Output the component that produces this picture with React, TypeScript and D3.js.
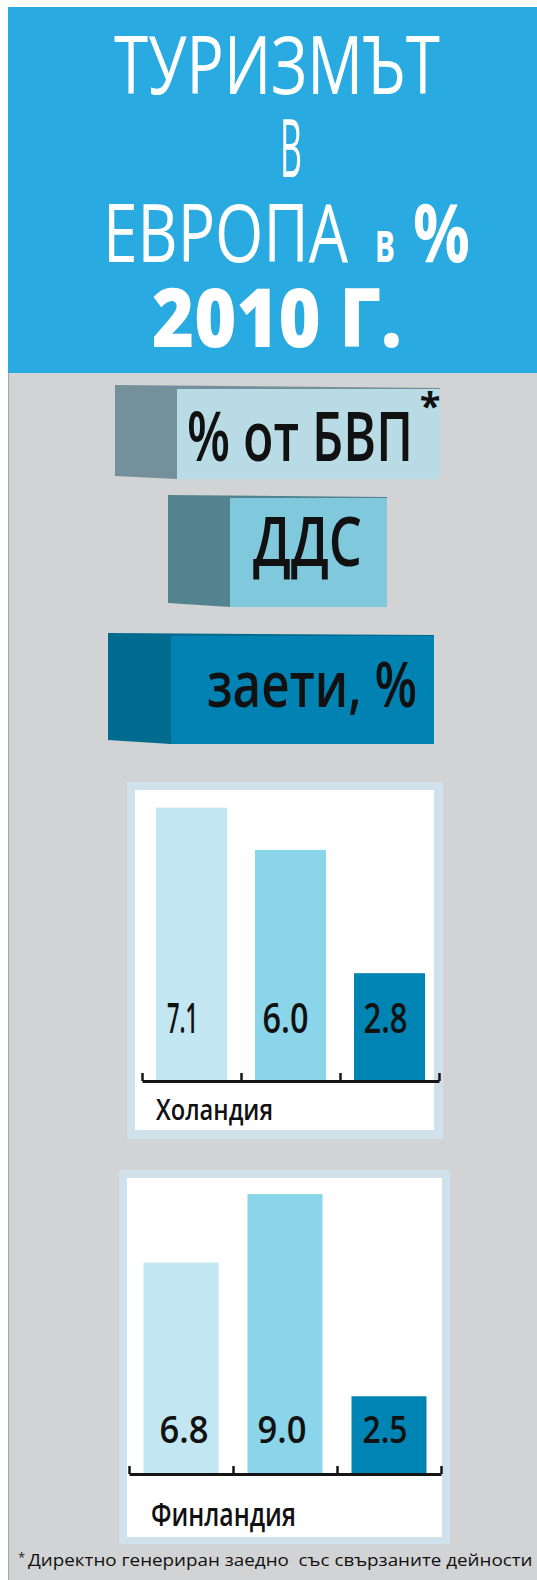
import { useEffect, useLayoutEffect, useRef, useState } from 'react'
import * as d3 from 'd3'

// series: metric per bar, one small array per country
const metrics = ['% от БВП', 'ДДС', 'заети, %']
const metricColors = ['#c2e7f2', '#8ad5ea', '#0084b4']
const countries = ['Холандия', 'Финландия']
const netherlandsValues = [7.1, 6.0, 2.8]
const finlandValues = [6.8, 9.0, 2.5]
const footnoteText = 'Директно генериран заедно  със свързаните дейности'

const W = 537
const H = 1580
const FONT = "'Open Sans', 'Noto Sans', sans-serif"

const fmt = d3.format('.1f')

// layout of the two bar panels (pixels)
const panels = [
  {
    country: countries[0], values: netherlandsValues,
    outer: [127, 782, 443, 1139], inner: [135, 790, 434, 1130],
    x0: 142, x1: 439, base: 1081, pxUnit: 38.5, pad: 0.283,
    labelY: 1033, labelSize: 42, labelW: [31, 46, 44], labelDx: [-9, -5, -4],
    nameX: 156, nameY: 1120, nameSize: 28, nameW: 117,
  },
  {
    country: countries[1], values: finlandValues,
    outer: [119, 1170, 450, 1544], inner: [127, 1178, 442, 1537],
    x0: 129, x1: 441, base: 1474, pxUnit: 31.1, pad: 0.279,
    labelY: 1443, labelSize: 38, labelW: [49, 49, 45], labelDx: [3, -3, -4],
    nameX: 151, nameY: 1526, nameSize: 33, nameW: 145,
  },
]

// legend "blocks"
const legendBoxes = [
  { l: 115, s: 177, r: 440, top: 385, ftop: 389, bot: 479, lbot: 476, side: '#74909a', front: '#b8dbe5',
    tx: 187, ty: 461, tw: 226, ts: 68 },
  { l: 168, s: 230, r: 387, top: 495, ftop: 498, bot: 607, lbot: 603, side: '#52838f', front: '#80c9dd',
    tx: 253, ty: 566, tw: 109, ts: 68 },
  { l: 108, s: 171, r: 434, top: 633, ftop: 636, bot: 744, lbot: 740, side: '#006a8f', front: '#0083b3',
    tx: 207, ty: 707, tw: 210, ts: 63 },
]

// text squeezed horizontally to a given width (condensed look)
function FitText({ x, y, w, anchor = 'start', children, ...rest }: any) {
  const ref = useRef<SVGTextElement>(null)
  const [sx, setSx] = useState(1)
  useLayoutEffect(() => {
    const n = ref.current ? ref.current.getComputedTextLength() : 0
    if (n > 0) setSx(w / n)
  }, [w, children])
  return (
    <text ref={ref} transform={`translate(${x},${y}) scale(${sx},1)`} textAnchor={anchor} {...rest}>
      {children}
    </text>
  )
}

function Axis({ x0, x1, y, n }: { x0: number; x1: number; y: number; n: number }) {
  const ref = useRef<SVGGElement>(null)
  useEffect(() => {
    const s = d3.scaleLinear().domain([0, n]).range([x0, x1])
    const g = d3.select(ref.current)
    g.selectAll('*').remove()
    g.attr('transform', `translate(0,${y})`)
      .call(d3.axisBottom(s).tickValues(d3.range(n + 1)).tickSize(-8).tickSizeOuter(0).tickFormat(() => '') as any)
      .call((ax: any) => ax.select('.domain').attr('stroke', '#151515').attr('stroke-width', 3))
      .call((ax: any) => ax.selectAll('.tick line').attr('stroke', '#151515').attr('stroke-width', 2.5))
  }, [x0, x1, y, n])
  return <g ref={ref} />
}

function Panel({ p }: { p: typeof panels[0] }) {
  const x = d3.scaleBand().domain(metrics).range([p.x0, p.x1]).paddingInner(p.pad).paddingOuter(p.pad / 2)
  const y = d3.scaleLinear().domain([0, 10]).range([p.base, p.base - p.pxUnit * 10])
  const [ox0, oy0, ox1, oy1] = p.outer
  const [ix0, iy0, ix1, iy1] = p.inner
  return (
    <g>
      <rect x={ox0} y={oy0} width={ox1 - ox0} height={oy1 - oy0} fill="#cfe2ec" />
      <rect x={ix0} y={iy0} width={ix1 - ix0} height={iy1 - iy0} fill="#ffffff" />
      {metrics.map((m, i) => (
        <rect key={m} x={x(m)} y={y(p.values[i])} width={x.bandwidth()} height={y(0) - y(p.values[i])} fill={metricColors[i]} />
      ))}
      {metrics.map((m, i) => (
        <FitText key={'l' + m} x={(x(m) as number) + x.bandwidth() / 2 + p.labelDx[i]} y={p.labelY}
          anchor="middle" fontSize={p.labelSize} fontWeight={600} fill="#111" w={p.labelW[i]}>
          {fmt(p.values[i])}
        </FitText>
      ))}
      <Axis x0={p.x0} x1={p.x1} y={p.base} n={metrics.length} />
      <FitText x={p.nameX} y={p.nameY} fontSize={p.nameSize} fontWeight={600} fill="#111" w={p.nameW}>
        {p.country}
      </FitText>
    </g>
  )
}

export default function App() {
  return (
    <div style={{ position: 'absolute', left: 0, top: 0 }}>
      <svg width={W} height={H} style={{ display: 'block', fontFamily: FONT }}>
        <rect x={0} y={0} width={W} height={H} fill="#ffffff" />
        {/* header */}
        <rect x={8} y={7} width={W - 8} height={366} fill="#29aae1" />
        <g fill="#ffffff">
          <FitText x={114} y={94} fontSize={81} fontWeight={500} w={326}>ТУРИЗМЪТ</FitText>
          <FitText x={280} y={177} fontSize={81} fontWeight={500} w={22}>В</FitText>
          <FitText x={103} y={262} fontSize={81} fontWeight={500} w={245}>ЕВРОПА</FitText>
          <FitText x={375} y={262} fontSize={58} fontWeight={700} w={20}>в</FitText>
          <FitText x={413} y={262} fontSize={81} fontWeight={700} w={57}>%</FitText>
          <FitText x={152} y={347} fontSize={81} fontWeight={800} w={250}>2010 Г.</FitText>
        </g>
        {/* body */}
        <rect x={8} y={373} width={W - 8} height={H - 373} fill="#d1d3d4" />
        <line x1={8.5} x2={8.5} y1={373} y2={H} stroke="#a4a6a9" strokeWidth={1} />

        {legendBoxes.map((b, i) => (
          <g key={metrics[i]}>
            <polygon points={`${b.l},${b.top} ${b.r},${b.ftop - 1} ${b.r},${b.ftop} ${b.s},${b.ftop} ${b.s},${b.bot} ${b.l},${b.lbot}`} fill={b.side} />
            <rect x={b.s} y={b.ftop} width={b.r - b.s} height={b.bot - b.ftop} fill={b.front} />
            <FitText x={b.tx} y={b.ty} fontSize={b.ts} fontWeight={600} fill="#111" w={b.tw}>{metrics[i]}</FitText>
          </g>
        ))}
        <text x={430} y={420} textAnchor="middle" fontSize={38} fontWeight={700} fill="#111">*</text>

        {panels.map((p) => <Panel key={p.country} p={p} />)}

        <text x={18} y={1562} fontSize={13} fill="#222">*</text>
        <FitText x={28} y={1566} fontSize={15.5} fill="#111" lang="bg" style={{ whiteSpace: 'pre' }} w={505}>
          {footnoteText}
        </FitText>
      </svg>
    </div>
  )
}
